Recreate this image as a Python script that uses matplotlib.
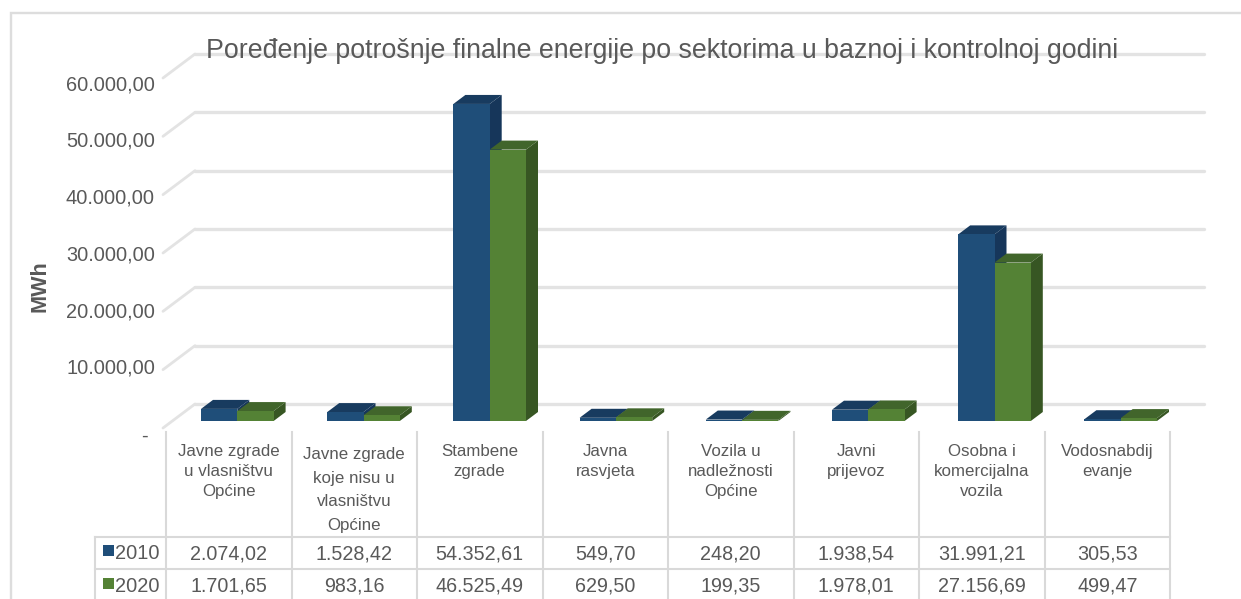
import matplotlib
matplotlib.use('Agg')
import matplotlib.pyplot as plt
from matplotlib.patches import Polygon, Rectangle

plt.rcParams['font.family'] = ['Liberation Sans', 'DejaVu Sans']

# ==== data ====
title = 'Poređenje potrošnje finalne energije po sektorima u baznoj i kontrolnoj godini'
categories = ['Javne zgrade\nu vlasništvu\nOpćine',
              'Javne zgrade\nkoje nisu u\nvlasništvu\nOpćine',
              'Stambene\nzgrade',
              'Javna\nrasvjeta',
              'Vozila u\nnadležnosti\nOpćine',
              'Javni\nprijevoz',
              'Osobna i\nkomercijalna\nvozila',
              'Vodosnabdij\nevanje']
years = ['2010', '2020']
values_2010 = [2074.02, 1528.42, 54352.61, 549.70, 248.20, 1938.54, 31991.21, 305.53]
values_2020 = [1701.65, 983.16, 46525.49, 629.50, 199.35, 1978.01, 27156.69, 499.47]
labels_2010 = ['2.074,02', '1.528,42', '54.352,61', '549,70', '248,20', '1.938,54', '31.991,21', '305,53']
labels_2020 = ['1.701,65', '983,16', '46.525,49', '629,50', '199,35', '1.978,01', '27.156,69', '499,47']
y_ticks = [0, 10000, 20000, 30000, 40000, 50000, 60000]
y_tick_labels = ['-', '10.000,00', '20.000,00', '30.000,00', '40.000,00', '50.000,00', '60.000,00']

front_colors = ['#1F4E79', '#548235']
top_colors = ['#183B5F', '#41652B']
side_colors = ['#16365A', '#375623']
grid_color = '#E3E3E3'
line_color = '#D9D9D9'
text_color = '#595959'

W, H = 1241, 599
fig = plt.figure(figsize=(W / 100, H / 100), dpi=100)

# axes fill the figure, data scale set so that x is category, y is MWh
col_w = 125.5
x0 = 166.0
base_y = 421.0
per_unit = 350.0 / 60000
ax = fig.add_axes([0, 0, 1, 1])
ax.set_xlim(-x0 / col_w, (W - x0) / col_w)
ax.set_ylim(-(H - base_y) / per_unit, base_y / per_unit)
ax.axis('off')

# pixel overlay for frame + table
px = fig.add_axes([0, 0, 1, 1], zorder=3)
px.set_xlim(0, W)
px.set_ylim(H, 0)
px.axis('off')
px.patch.set_alpha(0)

# depth of the 3d look
dx = 12 / col_w
dy = 9 / per_unit
bar_w = 36.3 / col_w
bar_step = 126.2 / col_w

# walls: grid lines
floor_front = -7 / per_unit
floor_back = 17 / per_unit
for v in y_ticks:
    ax.plot([-3 / col_w, 29 / col_w], [v + floor_front, v + floor_back],
            color=grid_color, lw=2.0, solid_capstyle='round', zorder=1)
    ax.plot([29 / col_w, 1038 / col_w], [v + floor_back, v + floor_back],
            color=grid_color, lw=2.4, solid_capstyle='round', zorder=1)

# bars
for i in range(len(categories)):
    left = 35 / col_w + i * bar_step
    for j, vals in enumerate([values_2010, values_2020]):
        v = vals[i]
        l = left + j * bar_w
        r = l + bar_w
        ax.add_patch(Polygon([(r, 0), (r + dx, dy), (r + dx, v + dy), (r, v)],
                             facecolor=side_colors[j], edgecolor='none', zorder=2 + j))
        ax.add_patch(Polygon([(l, v), (l + dx, v + dy), (r + dx, v + dy), (r, v)],
                             facecolor=top_colors[j], edgecolor='none', zorder=2 + j))
        ax.bar(l, v, width=bar_w, align='edge', color=front_colors[j],
               edgecolor='none', zorder=2 + j)

# y tick labels (they sit a bit off the wall scale in the original)
for v, lab in zip(y_ticks, y_tick_labels):
    if lab == '-':
        ax.text(-18 / col_w, -15 / per_unit, lab, ha='right', va='center',
                fontsize=14.4, color=text_color, zorder=5)
    else:
        ax.text(-11 / col_w, v * 0.972 - 4 / per_unit, lab, ha='right', va='center',
                fontsize=14.4, color=text_color, zorder=5)

ax.text(-126 / col_w, 135 / per_unit, 'MWh', rotation=90, ha='center', va='center',
        fontsize=15.6, fontweight='bold', color=text_color)

ax.text(496 / col_w, 363 / per_unit, title, ha='center', va='baseline',
        fontsize=19.25, color=text_color, zorder=5)

# outer frame (top + left only, cropped picture)
px.plot([11, 11, W], [H, 13, 13], color='#DDDDDD', lw=1.7, solid_joinstyle='miter')

# data table
n = len(categories)
row_top = 537
row_mid = 569
row_bot = 601
for k in range(n + 1):
    px.plot([x0 + k * col_w] * 2, [432, row_bot], color=line_color, lw=1.5)
px.plot([95, 95], [row_top, row_bot], color=line_color, lw=1.5)
px.plot([95, x0 + n * col_w], [row_top, row_top], color=line_color, lw=1.5)
px.plot([95, x0 + n * col_w], [row_mid, row_mid], color=line_color, lw=1.5)

for k, cat in enumerate(categories):
    cx = x0 + (k + 0.5) * col_w
    top = 447 if k == 1 else 444
    px.text(cx, top, cat, ha='center', va='top', fontsize=12.2, color=text_color,
            linespacing=1.42 if k != 1 else 1.72)
    px.text(cx, 553.5, labels_2010[k], ha='center', va='center', fontsize=14.2, color=text_color)
    px.text(cx, 586, labels_2020[k], ha='center', va='center', fontsize=14.2, color=text_color)

for j, (yr, yc) in enumerate(zip(years, [553, 585.5])):
    px.add_patch(Rectangle((103, yc - 8), 11, 11, facecolor=front_colors[j], edgecolor='none'))
    px.text(115, yc + 0.5, yr, ha='left', va='center', fontsize=14.4, color=text_color)

fig.savefig('out.png', dpi=100)
